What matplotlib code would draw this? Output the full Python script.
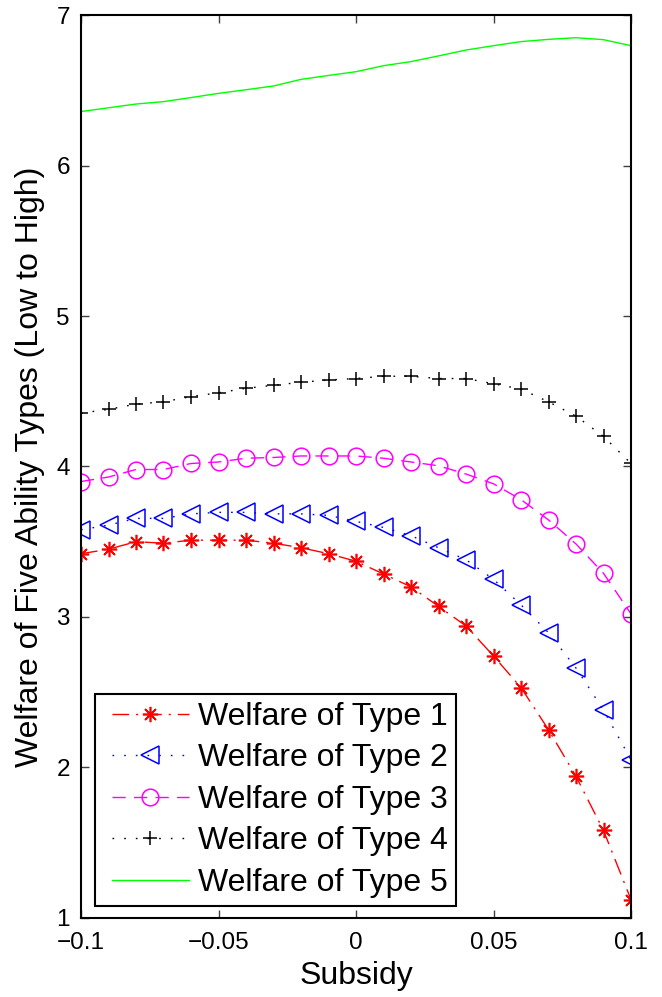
import matplotlib
matplotlib.use("Agg")
import matplotlib.pyplot as plt
from matplotlib.legend_handler import HandlerLine2D
import numpy as np

plt.rcParams['font.family'] = ['Liberation Sans', 'DejaVu Sans']

subsidy = [-0.10, -0.09, -0.08, -0.07, -0.06, -0.05, -0.04, -0.03, -0.02, -0.01,
           0.00, 0.01, 0.02, 0.03, 0.04, 0.05, 0.06, 0.07, 0.08, 0.09, 0.10]

type1 = [3.42, 3.45, 3.50, 3.49, 3.51, 3.51, 3.51, 3.49, 3.46, 3.42,
         3.37, 3.285, 3.20, 3.07, 2.94, 2.74, 2.53, 2.25, 1.94, 1.58, 1.12]
type2 = [3.58, 3.61, 3.655, 3.655, 3.685, 3.695, 3.695, 3.685, 3.685, 3.675,
         3.635, 3.595, 3.54, 3.46, 3.38, 3.25, 3.08, 2.895, 2.66, 2.38, 2.05]
type3 = [3.90, 3.93, 3.98, 3.98, 4.02, 4.03, 4.055, 4.06, 4.07, 4.07,
         4.07, 4.055, 4.03, 4.005, 3.95, 3.885, 3.78, 3.645, 3.485, 3.29, 3.02]
type4 = [4.355, 4.38, 4.415, 4.43, 4.465, 4.49, 4.52, 4.54, 4.56, 4.575,
         4.585, 4.60, 4.60, 4.585, 4.585, 4.55, 4.515, 4.43, 4.335, 4.20, 4.02]
type5 = [6.36, 6.385, 6.41, 6.426, 6.453, 6.481, 6.505, 6.53, 6.574, 6.60,
         6.625, 6.665, 6.692, 6.73, 6.769, 6.798, 6.825, 6.84, 6.851, 6.838, 6.798]

labels = ["Welfare of Type 1", "Welfare of Type 2", "Welfare of Type 3",
          "Welfare of Type 4", "Welfare of Type 5"]
xticks = [-0.1, -0.05, 0, 0.05, 0.1]
xticklabels = ["\u22120.1", "\u22120.05", "0", "0.05", "0.1"]
yticks = [1, 2, 3, 4, 5, 6, 7]

fig = plt.figure(figsize=(6.62, 9.97), dpi=100)
ax = fig.add_axes([81/662, 1 - 917.7/997, 550/662, 902.4/997])

lw = 1.0
ax.plot(subsidy, type1, color='#ff0000', lw=lw, dashes=(12, 5, 1.5, 5),
        marker=(8, 2, 0), markersize=11, markeredgewidth=1.2, label=labels[0])
ax.plot(subsidy, type2, color='#0000ff', lw=lw, dashes=(1.2, 7.2),
        marker='<', markersize=12.5, markerfacecolor='none', markeredgewidth=1.1,
        label=labels[1])
ax.plot(subsidy, type3, color='#ff00ff', lw=lw, dashes=(9.5, 6),
        marker='o', markersize=12, markerfacecolor='none', markeredgewidth=1.1,
        label=labels[2])
ax.plot(subsidy, type4, color='#000000', lw=lw, dashes=(1.2, 7.2),
        marker='+', markersize=10, markeredgewidth=1.1, label=labels[3])
ax.plot(subsidy, type5, color='#00ff00', lw=lw, linestyle='-', label=labels[4])

ax.set_xlim(-0.1, 0.1)
ax.set_ylim(1, 7)
ax.set_xticks(xticks)
ax.set_xticklabels(xticklabels)
ax.set_yticks(yticks)
ax.tick_params(direction='in', length=6, width=1, color='#404040',
               top=True, right=True, labelsize=17.5)
ax.tick_params(axis='x', pad=10)
ax.tick_params(axis='y', pad=8)
for sp in ax.spines.values():
    sp.set_linewidth(1.5)
    sp.set_color('black')

ax.set_xlabel("Subsidy", fontsize=23, labelpad=5)
ax.set_ylabel("Welfare of Five Ability Types (Low to High)", fontsize=23, labelpad=8)

hm = {ln: HandlerLine2D(xpad=0.27) for ln in ax.get_lines()}
leg = ax.legend(loc='lower left', bbox_to_anchor=(0.0255, 0.0133), fontsize=23,
                frameon=True, fancybox=False, edgecolor='black', framealpha=1,
                handlelength=2.7, handletextpad=0.28, borderpad=0.25,
                labelspacing=0.36, borderaxespad=0, numpoints=1, handler_map=hm)
leg.get_frame().set_linewidth(1.5)

fig.savefig("out.png", dpi=100)
